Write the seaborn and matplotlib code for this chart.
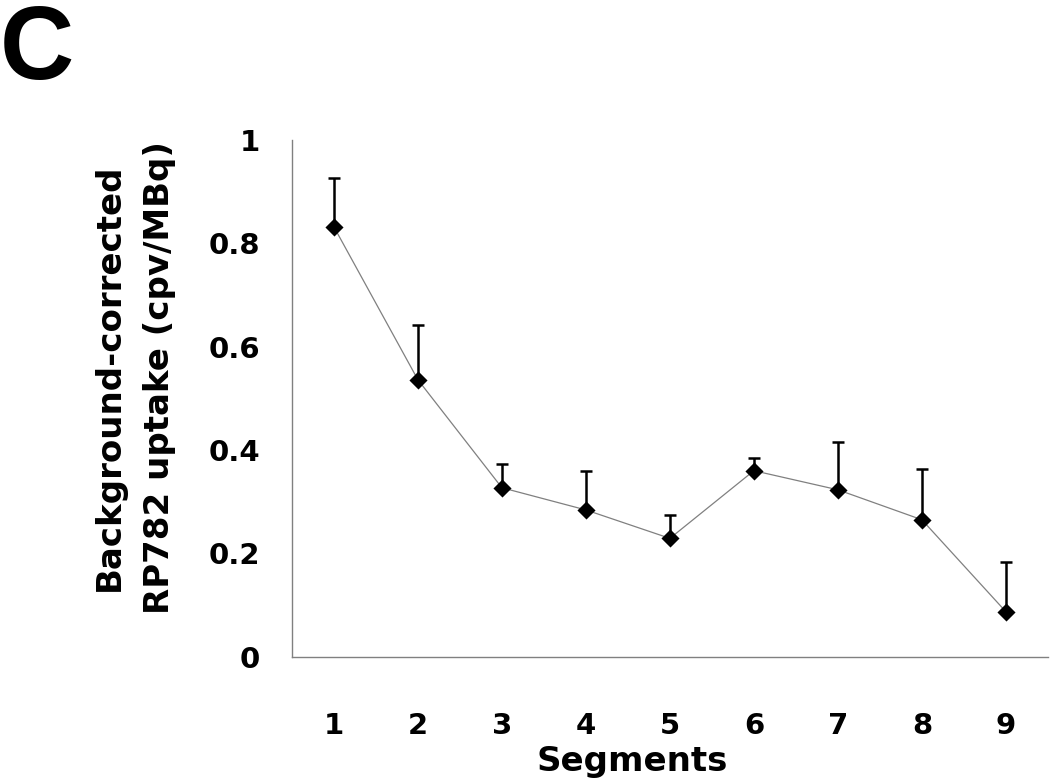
import numpy as np
import pandas as pd
import matplotlib
matplotlib.use("Agg")
import matplotlib.pyplot as plt
import seaborn as sns

segments = ["1", "2", "3", "4", "5", "6", "7", "8", "9"]
uptake = [0.832, 0.536, 0.327, 0.284, 0.229, 0.360, 0.323, 0.265, 0.087]
err_upper = [0.095, 0.106, 0.046, 0.075, 0.045, 0.025, 0.093, 0.098, 0.097]
yticks = [0, 0.2, 0.4, 0.6, 0.8, 1]
ytick_labels = ["0", "0.2", "0.4", "0.6", "0.8", "1"]

sns.set_theme(style="white")
plt.rcParams["font.family"] = ["DejaVu Sans"]
plt.rcParams["font.weight"] = "bold"

df = pd.DataFrame({"pos": np.arange(len(segments)), "uptake": uptake})

fig = plt.figure(figsize=(10.5, 7.84), dpi=100)
ax = fig.add_axes([0.278, 0.1624, 0.72, 0.659])

sns.lineplot(data=df, x="pos", y="uptake", ax=ax, color="#808080", linewidth=0.9,
             zorder=2)
ax.errorbar(df["pos"], df["uptake"], yerr=[np.zeros(len(err_upper)), err_upper],
            fmt="none", ecolor="black", elinewidth=1.8, capsize=4.5, capthick=1.8,
            zorder=3)
sns.scatterplot(data=df, x="pos", y="uptake", ax=ax, marker="D", color="black",
                s=85, edgecolor="black", linewidth=0, zorder=4)

ax.set_xlim(-0.5, len(segments) - 0.5)
ax.set_ylim(0, 1)
ax.set_yticks(yticks)
ax.set_yticklabels(ytick_labels, fontsize=21, fontweight="bold")
ax.set_xticks(np.arange(len(segments)))
ax.set_xticklabels(segments, fontsize=21, fontweight="bold")
ax.set_xticks(np.arange(-0.5, len(segments)), minor=True)
ax.tick_params(axis="x", which="major", length=0, pad=40, colors="black")
ax.tick_params(axis="x", which="minor", length=9, width=1, color="#808080",
               direction="out")
ax.tick_params(axis="y", which="major", length=9, width=1, color="#808080",
               direction="out", pad=14, labelcolor="black")
ax.tick_params(axis="x", labelcolor="black")
for s in ["top", "right"]:
    ax.spines[s].set_visible(False)
for s in ["left", "bottom"]:
    ax.spines[s].set_color("#808080")
    ax.spines[s].set_linewidth(1)

ax.set_xlabel("Segments", fontsize=24.5, fontweight="bold", color="black")
ax.xaxis.set_label_coords(0.45, -0.17)
ax.set_ylabel("Background-corrected\nRP782 uptake (cpv/MBq)", fontsize=24.5,
              fontweight="bold", color="black", linespacing=1.65)
ax.yaxis.set_label_coords(-0.153, 0.54)

fig.text(0.0, 0.995, "C", fontsize=74, fontweight="heavy", va="top", ha="left",
         color="black", family="Liberation Sans")

fig.savefig("out.png", dpi=100, facecolor="white")
